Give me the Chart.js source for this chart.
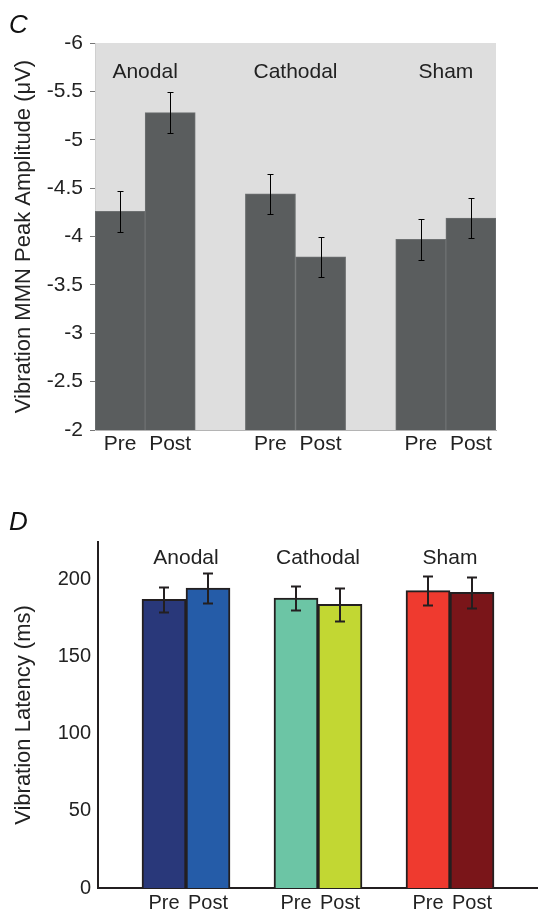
<!DOCTYPE html>
<html>
<head>
<meta charset="utf-8">
<script src="https://cdn.jsdelivr.net/npm/chart.js@4"></script>
<style>
  body { margin: 0; background: #fff; font-family: "Liberation Sans", Arial, sans-serif; }
  #page { position: relative; width: 538px; height: 911px; overflow: hidden; }
  .panel { position: absolute; left: 0; width: 538px; }
  .tag { position: absolute; font-style: italic; font-size: 26px; line-height: 26px; color: #111; z-index: 2; }
</style>
</head>
<body>
<div id="page">
  <div class="panel" style="top:0; height:470px;"><canvas id="chartC"></canvas></div>
  <div class="panel" style="top:500px; height:411px;"><canvas id="chartD"></canvas></div>
  <div class="tag" style="left:9px; top:11px;">C</div>
  <div class="tag" style="left:9px; top:508px;">D</div>
</div>

<script>
const groups = ["Anodal", "Cathodal", "Sham"];
const phases = ["Pre", "Post"];

// panel C: MMN peak amplitude (uV)
const mmnPre = [-4.26, -4.44, -3.97];
const mmnPost = [-5.28, -3.79, -4.19];
const mmnErrPre = [0.21, 0.21, 0.21];
const mmnErrPost = [0.21, 0.21, 0.21];

// panel D: latency (ms)
const latPre = [186.9, 187.7, 192.5];
const latPost = [194.2, 183.6, 191.4];
const latErrPre = [8.2, 7.5, 9.2];
const latErrPost = [9.6, 10.6, 10.1];

const colorsD = ["#29387a", "#255ca8", "#6cc5a5", "#c2d733", "#ef3a2f", "#7a1519"];

const FONT = '"Liberation Sans", Arial, sans-serif';
const INK = "#222";

// build the slot layout: Pre, Post and empty gap columns
const labelsC = [], valsC = [], errsC = [], firstC = [];
groups.forEach((g, i) => {
  if (i > 0) { labelsC.push(""); valsC.push(null); errsC.push(null); }
  firstC.push(labelsC.length);
  labelsC.push(phases[0]); valsC.push(mmnPre[i]); errsC.push(mmnErrPre[i]);
  labelsC.push(phases[1]); valsC.push(mmnPost[i]); errsC.push(mmnErrPost[i]);
});

const labelsD = [], valsD = [], errsD = [], firstD = [], barColD = [];
groups.forEach((g, i) => {
  labelsD.push(""); valsD.push(null); errsD.push(null); barColD.push("rgba(0,0,0,0)");
  firstD.push(labelsD.length);
  labelsD.push(phases[0]); valsD.push(latPre[i]); errsD.push(latErrPre[i]); barColD.push(colorsD[i * 2]);
  labelsD.push(phases[1]); valsD.push(latPost[i]); errsD.push(latErrPost[i]); barColD.push(colorsD[i * 2 + 1]);
});
labelsD.push(""); valsD.push(null); errsD.push(null); barColD.push("rgba(0,0,0,0)");

const areaBg = {
  id: "areaBg",
  beforeDraw(chart, args, opts) {
    if (!opts.color) return;
    const { ctx, chartArea: a } = chart;
    ctx.save();
    ctx.fillStyle = opts.color;
    ctx.fillRect(a.left, a.top, a.right - a.left, a.bottom - a.top);
    ctx.restore();
  }
};

const errorBars = {
  id: "errorBars",
  afterDatasetsDraw(chart, args, opts) {
    const { ctx, scales: { y } } = chart;
    const data = chart.data.datasets[0].data;
    ctx.save();
    ctx.strokeStyle = opts.color;
    ctx.lineWidth = opts.width;
    chart.getDatasetMeta(0).data.forEach((bar, i) => {
      const v = data[i], e = opts.errors[i];
      if (v == null || e == null) return;
      const x = Math.round(bar.x) + (opts.width % 2 ? 0.5 : 0);
      const y1 = Math.round(y.getPixelForValue(v - e)) + 0.5;
      const y2 = Math.round(y.getPixelForValue(v + e)) + 0.5;
      ctx.beginPath();
      ctx.moveTo(x, y1); ctx.lineTo(x, y2);
      ctx.moveTo(x - opts.cap, y1); ctx.lineTo(x + opts.cap, y1);
      ctx.moveTo(x - opts.cap, y2); ctx.lineTo(x + opts.cap, y2);
      ctx.stroke();
    });
    ctx.restore();
  }
};

const groupLabels = {
  id: "groupLabels",
  afterDatasetsDraw(chart, args, opts) {
    const { ctx, scales: { x } } = chart;
    ctx.save();
    ctx.font = opts.size + "px " + FONT;
    ctx.fillStyle = INK;
    ctx.textAlign = "center";
    ctx.textBaseline = "middle";
    opts.names.forEach((t, i) => {
      const cx = (x.getPixelForValue(opts.first[i]) + x.getPixelForValue(opts.first[i] + 1)) / 2;
      ctx.fillText(t, cx, chart.chartArea.top + opts.offset);
    });
    ctx.restore();
  }
};

new Chart(document.getElementById("chartC"), {
  type: "bar",
  data: {
    labels: labelsC,
    datasets: [{
      data: valsC,
      backgroundColor: "#5a5d5e",
      borderColor: "#6e7172",
      borderWidth: 1,
      barPercentage: 1,
      categoryPercentage: 1
    }]
  },
  plugins: [areaBg, errorBars, groupLabels],
  options: {
    responsive: true,
    maintainAspectRatio: false,
    animation: false,
    layout: { padding: { top: 43, right: 42, left: 0, bottom: 0 } },
    plugins: {
      legend: { display: false },
      tooltip: { enabled: false },
      areaBg: { color: "#dedede" },
      errorBars: { errors: errsC, color: "#000", width: 1, cap: 3 },
      groupLabels: { names: groups, first: firstC, offset: 29, size: 21 }
    },
    scales: {
      x: {
        grid: { display: false, drawTicks: false },
        border: { color: "#b4b4b4", width: 1 },
        ticks: { autoSkip: false, maxRotation: 0, padding: 2, color: INK, font: { family: FONT, size: 21 } },
        afterFit(s) { s.height = 40; }
      },
      y: {
        min: -6, max: -2, reverse: true,
        grid: { drawOnChartArea: false, tickLength: 5, color: "#777" },
        border: { color: "#cfcfcf", width: 1 },
        ticks: {
          stepSize: 0.5, padding: 7, color: INK, font: { family: FONT, size: 21 },
          callback: v => String(v)
        },
        title: {
          display: true,
          text: "Vibration MMN Peak Amplitude (μV)",
          color: INK,
          font: { family: FONT, size: 22 },
          padding: { top: 11, bottom: 0 }
        },
        afterFit(s) { s.width = 95; }
      }
    }
  }
});

new Chart(document.getElementById("chartD"), {
  type: "bar",
  data: {
    labels: labelsD,
    datasets: [{
      data: valsD,
      backgroundColor: barColD,
      borderColor: "#231f20",
      borderWidth: 2,
      barPercentage: 1,
      categoryPercentage: 1
    }]
  },
  plugins: [errorBars, groupLabels],
  options: {
    responsive: true,
    maintainAspectRatio: false,
    animation: false,
    layout: { padding: { top: 42, right: 0, left: 0, bottom: 0 } },
    plugins: {
      legend: { display: false },
      tooltip: { enabled: false },
      errorBars: { errors: errsD, color: "#231f20", width: 2, cap: 5 },
      groupLabels: { names: groups, first: firstD, offset: 16, size: 21 }
    },
    scales: {
      x: {
        grid: { display: false, drawTicks: false },
        border: { color: "#231f20", width: 2 },
        ticks: { autoSkip: false, maxRotation: 0, padding: 3, color: INK, font: { family: FONT, size: 20 } },
        afterFit(s) { s.height = 23; }
      },
      y: {
        min: 0, max: 224,
        grid: { display: false, drawTicks: false },
        border: { color: "#231f20", width: 2 },
        ticks: { stepSize: 50, includeBounds: false, padding: 7, color: INK, font: { family: FONT, size: 20 } },
        title: {
          display: true,
          text: "Vibration Latency (ms)",
          color: INK,
          font: { family: FONT, size: 22 },
          padding: { top: 11, bottom: 0 }
        },
        afterFit(s) { s.width = 98; }
      }
    }
  }
});
</script>
</body>
</html>
